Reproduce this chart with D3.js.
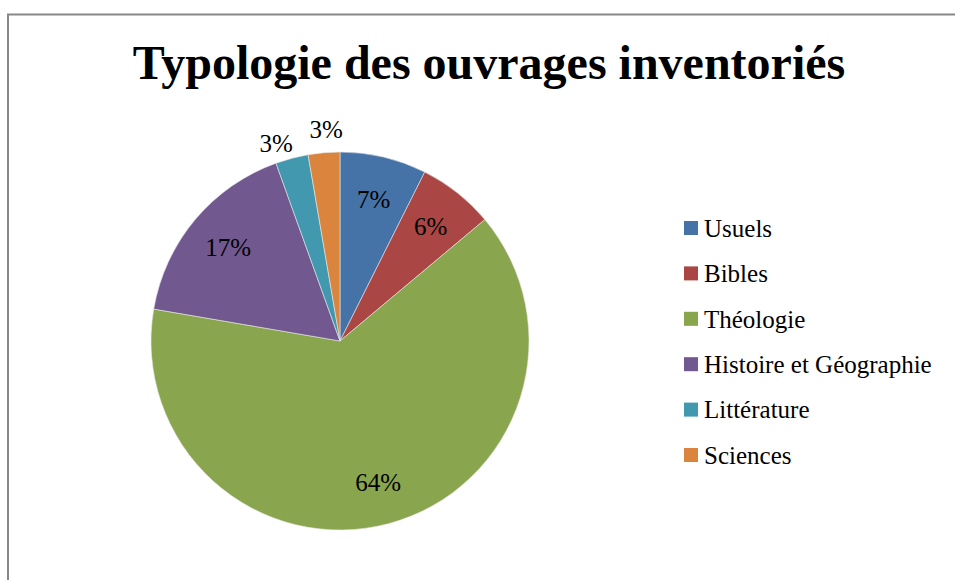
<!DOCTYPE html>
<html>
<head>
<meta charset="utf-8">
<script src="https://cdn.jsdelivr.net/npm/d3@7"></script>
<style>
  body { margin: 0; background: #fff; }
  text { font-family: "Liberation Serif", "DejaVu Serif", serif; fill: #000; }
</style>
</head>
<body>
<div id="chart"></div>
<script>
// data
const categories = ["Usuels", "Bibles", "Théologie", "Histoire et Géographie", "Littérature", "Sciences"];
const values = [7.4, 6.5, 63.8, 16.8, 2.8, 2.7];
const labels = ["7%", "6%", "64%", "17%", "3%", "3%"];
const colors = ["#4572A7", "#AA4643", "#89A54E", "#71588F", "#4198AF", "#DB843D"];
const outside = [false, false, false, false, true, true];

const width = 955, height = 580;
const cx = 340, cy = 341, radius = 189;

const svg = d3.select("#chart").append("svg")
  .attr("width", width)
  .attr("height", height);

// frame of the chart area
svg.append("rect")
  .attr("x", 8).attr("y", 14.5)
  .attr("width", 1000).attr("height", 700)
  .attr("fill", "none")
  .attr("stroke", "#888")
  .attr("stroke-width", 2);

svg.append("text")
  .attr("x", 489).attr("y", 79)
  .attr("text-anchor", "middle")
  .attr("font-size", 48)
  .attr("font-weight", "bold")
  .text("Typologie des ouvrages inventoriés");

const pie = d3.pie().sort(null).value(d => d)(values);
const arc = d3.arc().innerRadius(0).outerRadius(radius);

const g = svg.append("g").attr("transform", `translate(${cx},${cy})`);

g.selectAll("path.slice")
  .data(pie)
  .join("path")
  .attr("class", "slice")
  .attr("d", arc)
  .attr("fill", (d, i) => colors[i])
  .attr("stroke", "#e8e8e8")
  .attr("stroke-width", 0.6);

const inArc = d3.arc().innerRadius(146).outerRadius(146);
const outArc = d3.arc().innerRadius(radius + 24).outerRadius(radius + 24);

// label positions, outside ones pushed apart so they don't collide
const pos = pie.map((d, i) => (outside[i] ? outArc : inArc).centroid(d));
const outIdx = pie.map((d, i) => i).filter(i => outside[i]);
for (let k = 1; k < outIdx.length; k++) {
  const a = pos[outIdx[k - 1]], b = pos[outIdx[k]];
  const gap = 50 - (b[0] - a[0]);
  if (gap > 0) { a[0] -= gap * 0.7; b[0] += gap * 0.3; a[1] += 8; }
}

g.selectAll("text.lbl")
  .data(pie)
  .join("text")
  .attr("class", "lbl")
  .attr("transform", (d, i) => `translate(${pos[i]})`)
  .attr("text-anchor", "middle")
  .attr("dy", "0.35em")
  .attr("font-size", 25)
  .text((d, i) => labels[i]);

const legend = svg.append("g").attr("transform", "translate(684,228)");
const rowY = d3.scalePoint().domain(categories).range([0, 227]);

const item = legend.selectAll("g.item")
  .data(categories)
  .join("g")
  .attr("class", "item")
  .attr("transform", d => `translate(0,${rowY(d)})`);

item.append("rect")
  .attr("x", 0).attr("y", -7)
  .attr("width", 14).attr("height", 14)
  .attr("fill", (d, i) => colors[i]);

item.append("text")
  .attr("x", 20)
  .attr("dy", "0.35em")
  .attr("font-size", 25)
  .text(d => d);
</script>
</body>
</html>
